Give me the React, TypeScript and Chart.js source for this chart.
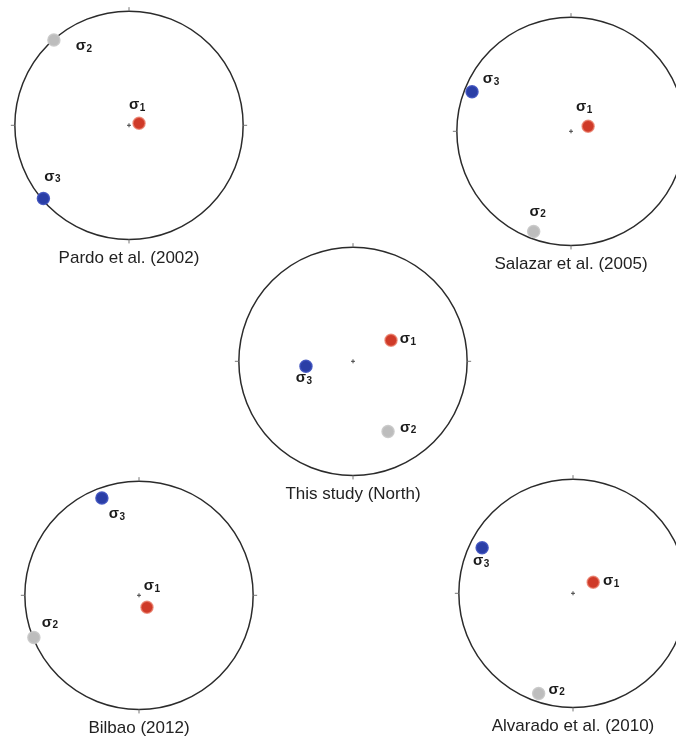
import React, { useEffect, useRef } from "react";
import { Chart, registerables } from "chart.js";

Chart.register(...registerables);

// ---- DATA ----
const panelTitles = [
  "Pardo et al. (2002)",
  "Salazar et al. (2005)",
  "This study (North)",
  "Bilbao (2012)",
  "Alvarado et al. (2010)",
];
const sigmaNames = ["1", "2", "3"];
// stereonet projected positions [east, north] on a unit net, one per panel
const sigma1Points = [
  [0.088, 0.018],
  [0.15, 0.044],
  [0.333, 0.184],
  [0.07, -0.105],
  [0.177, 0.097],
];
const sigma2Points = [
  [-0.658, 0.746],
  [-0.327, -0.876],
  [0.307, -0.614],
  [-0.921, -0.368],
  [-0.301, -0.876],
];
const sigma3Points = [
  [-0.75, -0.64],
  [-0.867, 0.345],
  [-0.412, -0.044],
  [-0.325, 0.851],
  [-0.796, 0.398],
];

// ---- LAYOUT / STYLE ----
const panelLeft = [8, 450, 232, 18, 452];
const panelTop = [4, 10, 240, 474, 472];
const CANVAS_W = 242;
const CANVAS_H = 268;
const NET_LIMIT = 1.06;
const sigmaColors = ["#cf3a28", "#bdbdbd", "#2a3ea6"];
const sigmaBorders = ["rgba(232,120,100,0.75)", "rgba(200,200,200,0.9)", "rgba(60,80,190,0.9)"];
// label offsets (px) from each point: [panel][sigma] = [dx, dy]
const labelOffsets = [
  [[-2, -17], [30, 7], [9, -21]],
  [[-4, -18], [4, -19], [19, -12]],
  [[17, 0], [20, -3], [-2, 13]],
  [[5, -20], [16, -14], [15, 17]],
  [[18, 0], [18, -3], [-1, 14]],
];
const FONT = "'Liberation Sans', Arial, Helvetica, sans-serif";

const stereonetPlugin = {
  id: "stereonet",
  beforeDatasetsDraw(chart: any) {
    const { ctx, scales } = chart;
    const x = scales.x;
    const y = scales.y;
    const cx = x.getPixelForValue(0);
    const cy = y.getPixelForValue(0);
    const r = x.getPixelForValue(1) - cx;
    ctx.save();
    ctx.strokeStyle = "#2b2b2b";
    ctx.lineWidth = 1.5;
    ctx.beginPath();
    ctx.arc(cx, cy, r, 0, Math.PI * 2);
    ctx.stroke();
    // N E S W ticks
    ctx.strokeStyle = "#777";
    ctx.lineWidth = 1;
    const t = 4;
    ctx.beginPath();
    ctx.moveTo(cx, cy - r - t);
    ctx.lineTo(cx, cy - r);
    ctx.moveTo(cx, cy + r);
    ctx.lineTo(cx, cy + r + t);
    ctx.moveTo(cx - r - t, cy);
    ctx.lineTo(cx - r, cy);
    ctx.moveTo(cx + r, cy);
    ctx.lineTo(cx + r + t, cy);
    ctx.stroke();
    // centre cross
    ctx.strokeStyle = "#444";
    ctx.beginPath();
    ctx.moveTo(cx - 2, cy);
    ctx.lineTo(cx + 2, cy);
    ctx.moveTo(cx, cy - 2);
    ctx.lineTo(cx, cy + 2);
    ctx.stroke();
    ctx.restore();
  },
  afterDatasetsDraw(chart: any, _args: any, opts: any) {
    const { ctx } = chart;
    const offsets = opts.offsets || [];
    ctx.save();
    ctx.fillStyle = "#1a1a1a";
    chart.data.datasets.forEach((ds: any, i: number) => {
      const meta = chart.getDatasetMeta(i);
      const el = meta.data[0];
      if (!el) return;
      const off = offsets[i] || [0, 0];
      const lx = el.x + off[0];
      const ly = el.y + off[1];
      ctx.font = `bold 15px ${FONT}`;
      ctx.textBaseline = "middle";
      ctx.textAlign = "left";
      const sw = ctx.measureText("σ").width;
      ctx.font = `bold 10px ${FONT}`;
      const dw = ctx.measureText(ds.sigmaIndex).width;
      const total = sw + dw + 0.5;
      const start = lx - total / 2;
      ctx.font = `bold 15px ${FONT}`;
      ctx.fillText("σ", start, ly - 1);
      ctx.font = `bold 10px ${FONT}`;
      ctx.fillText(ds.sigmaIndex, start + sw + 0.5, ly + 2);
    });
    ctx.restore();
  },
};

function Stereonet({ index }: { index: number }) {
  const ref = useRef<HTMLCanvasElement | null>(null);
  useEffect(() => {
    if (!ref.current) return;
    const series = [sigma1Points, sigma2Points, sigma3Points];
    const datasets = series.map((s, k) => ({
      label: "σ" + sigmaNames[k],
      sigmaIndex: sigmaNames[k],
      data: [{ x: s[index][0], y: s[index][1] }],
      pointRadius: 6,
      pointHoverRadius: 6,
      pointBackgroundColor: sigmaColors[k],
      pointBorderColor: sigmaBorders[k],
      pointBorderWidth: 1.5,
    }));
    const chart = new Chart(ref.current, {
      type: "scatter",
      data: { datasets } as any,
      options: {
        responsive: false,
        animation: false,
        events: [],
        layout: { padding: 0, autoPadding: false },
        scales: {
          x: { type: "linear", min: -NET_LIMIT, max: NET_LIMIT, display: false },
          y: { type: "linear", min: -NET_LIMIT, max: NET_LIMIT, display: false },
        },
        plugins: {
          legend: { display: false },
          tooltip: { enabled: false },
          title: {
            display: true,
            position: "bottom",
            text: panelTitles[index],
            color: "#222",
            font: { family: FONT, size: 17, weight: "normal" },
            padding: { top: 2, bottom: 3 },
          },
          stereonet: { offsets: labelOffsets[index] },
        } as any,
      } as any,
      plugins: [stereonetPlugin],
    });
    return () => chart.destroy();
  }, [index]);
  return (
    <canvas
      ref={ref}
      width={CANVAS_W}
      height={CANVAS_H}
      style={{
        position: "absolute",
        left: panelLeft[index],
        top: panelTop[index],
        width: CANVAS_W,
        height: CANVAS_H,
      }}
    />
  );
}

export default function App() {
  return (
    <div
      style={{
        position: "fixed",
        left: 0,
        top: 0,
        width: 676,
        height: 741,
        overflow: "hidden",
        background: "#fff",
      }}
    >
      {panelTitles.map((_, i) => (
        <Stereonet key={i} index={i} />
      ))}
    </div>
  );
}
